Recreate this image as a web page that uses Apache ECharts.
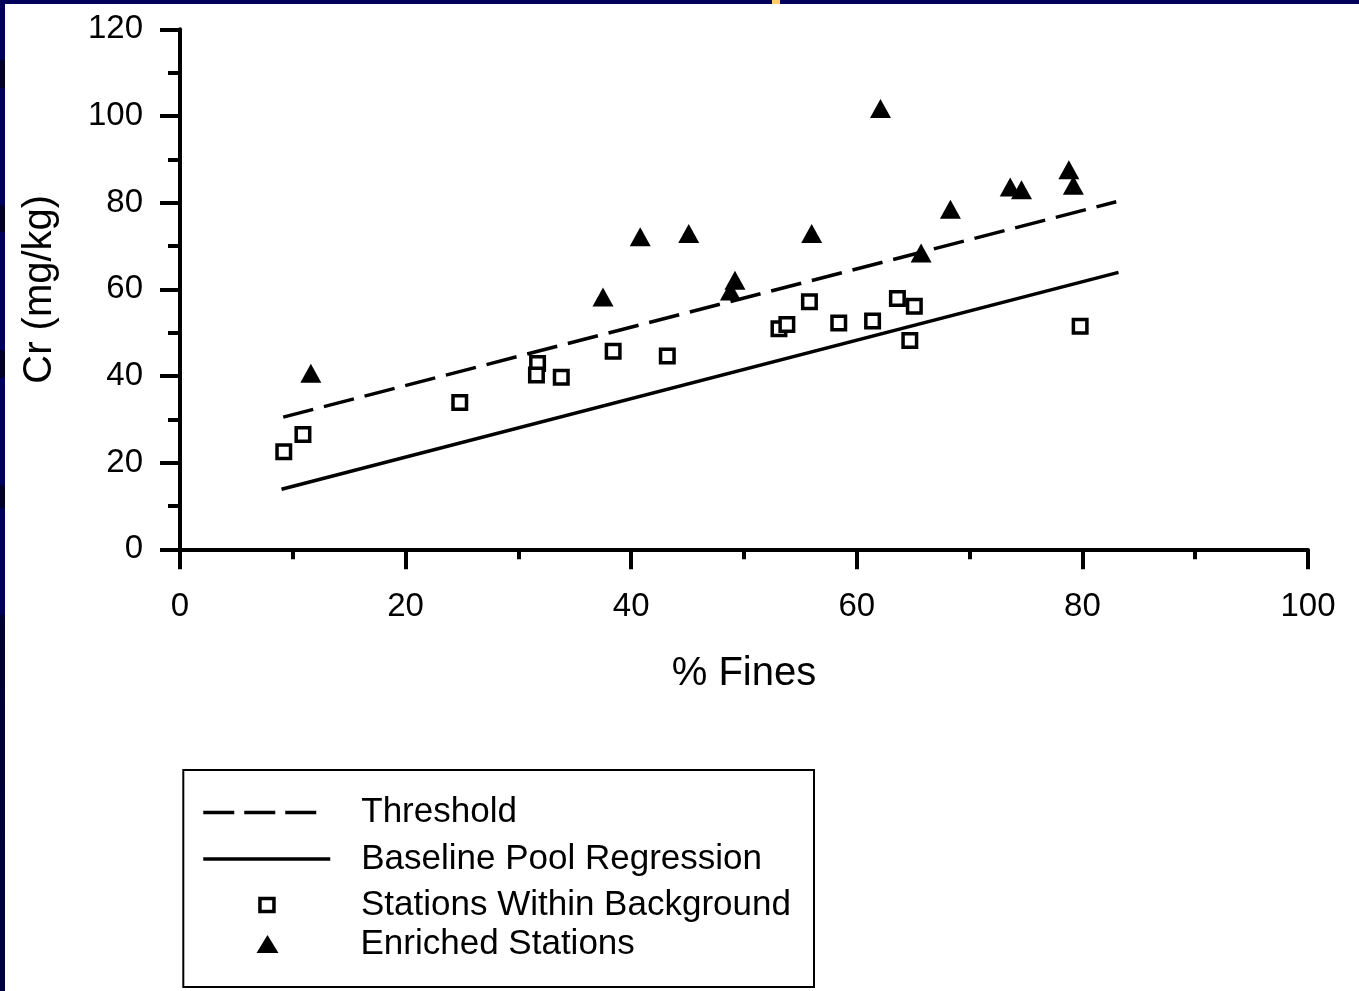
<!DOCTYPE html>
<html>
<head>
<meta charset="utf-8">
<script src="https://cdn.jsdelivr.net/npm/echarts@6/dist/echarts.min.js"></script>
<style>
html,body{margin:0;padding:0;width:1359px;height:991px;overflow:hidden;background:#00005a;}
#leftband{position:absolute;left:0;top:0;width:5px;height:991px;
 background:linear-gradient(to bottom,#00005a 0,#00005a 60px,#000028 60px,#000028 88px,#00005a 88px,#00005a 205px,#000028 205px,#000028 232px,#00005a 232px,#00005a 350px,#000028 350px,#000028 378px,#00005a 378px,#00005a 485px,#000028 485px,#000028 508px,#00005a 508px,#00005a 615px,#000030 615px,#000040 991px);}
#mark{position:absolute;left:772px;top:0;width:8px;height:4px;background:#ffcc66;}
#chart{position:absolute;left:5px;top:4px;width:1354px;height:987px;background:#fff;}
</style>
</head>
<body>
<div id="leftband"></div>
<div id="mark"></div>
<div id="chart"></div>
<script>
// ---- data ----
const backgroundX = [9.2, 10.9, 24.8, 31.7, 31.6, 33.8, 38.4, 43.2, 53.1, 53.8, 55.8, 58.4, 61.4, 63.6, 65.1, 64.7, 79.8];
const backgroundY = [22.5, 26.5, 33.9, 42.9, 40.2, 39.7, 45.7, 44.6, 50.9, 51.9, 57.1, 52.2, 52.7, 57.9, 56.1, 48.2, 51.5];
const enrichedX = [11.6, 37.5, 40.8, 45.1, 48.8, 49.2, 56.0, 62.1, 65.7, 68.3, 73.6, 74.6, 78.8, 79.2];
const enrichedY = [40.6, 58.2, 72.1, 72.9, 59.6, 62.1, 72.9, 101.7, 68.4, 78.5, 83.6, 83.0, 87.6, 84.0];
const thresholdX = [9.15, 83.0];
const thresholdY = [30.5, 80.2];
const baselineX = [9.0, 83.2];
const baselineY = [13.85, 63.9];
const xTicks = [0, 20, 40, 60, 80, 100];
const yTicks = [0, 20, 40, 60, 80, 100, 120];
const seriesNames = ['Threshold', 'Baseline Pool Regression', 'Stations Within Background', 'Enriched Stations'];

const pair = (xs, ys) => xs.map((x, i) => [x, ys[i]]);
const FONT = '"Liberation Sans", Arial, Helvetica, sans-serif';
const BLACK = '#000';

const chart = echarts.init(document.getElementById('chart'), null, {renderer: 'canvas'});

function legendText(pad) {
  return {fontSize: 35, lineHeight: 35, color: BLACK, fontFamily: FONT, padding: [0, 0, 0, pad]};
}

const option = {
  animation: false,
  backgroundColor: '#fff',
  color: [BLACK, BLACK, BLACK, BLACK],
  textStyle: {fontFamily: FONT},
  grid: {left: 175, right: 51, top: 25.3, bottom: 441.7, containLabel: false, outerBoundsMode: 'none'},
  xAxis: {
    type: 'value', min: xTicks[0], max: xTicks[xTicks.length - 1], interval: xTicks[1] - xTicks[0],
    axisLine: {show: true, onZero: false, lineStyle: {color: BLACK, width: 4}},
    axisTick: {show: true, length: 20, lineStyle: {color: BLACK, width: 4}},
    minorTick: {show: true, splitNumber: 2, length: 10, lineStyle: {color: BLACK, width: 4}},
    axisLabel: {fontSize: 33, color: BLACK, margin: 41, fontFamily: FONT},
    splitLine: {show: false},
    name: '% Fines', nameLocation: 'middle', nameGap: 105,
    nameTextStyle: {fontSize: 40, color: BLACK, fontFamily: FONT, lineHeight: 40}
  },
  yAxis: {
    type: 'value', min: yTicks[0], max: yTicks[yTicks.length - 1], interval: yTicks[1] - yTicks[0],
    axisLine: {show: true, onZero: false, lineStyle: {color: BLACK, width: 4}},
    axisTick: {show: true, length: 20, lineStyle: {color: BLACK, width: 4}},
    minorTick: {show: true, splitNumber: 2, length: 12, lineStyle: {color: BLACK, width: 4}},
    axisLabel: {fontSize: 33, color: BLACK, margin: 37, fontFamily: FONT},
    splitLine: {show: false},
    name: 'Cr (mg/kg)', nameLocation: 'middle', nameGap: 120, nameRotate: 90,
    nameTextStyle: {fontSize: 40, color: BLACK, fontFamily: FONT, lineHeight: 40}
  },
  legend: [
    {data: [seriesNames[0]], left: 196.5, top: 791, padding: 0, selectedMode: false,
     itemWidth: 114, itemHeight: 14, textStyle: legendText(39),
     itemStyle: {opacity: 0},
     lineStyle: {width: 3.5, color: BLACK, type: [31, 10]}},
    {data: [seriesNames[1]], left: 196.5, top: 837.5, padding: 0, selectedMode: false,
     itemWidth: 127, itemHeight: 14, textStyle: legendText(26),
     itemStyle: {opacity: 0},
     lineStyle: {width: 3.5, color: BLACK, type: 'solid'}},
    {data: [seriesNames[2]], left: 253.2, top: 883.5, padding: 0, selectedMode: false,
     itemWidth: 14, itemHeight: 13, symbolKeepAspect: false, textStyle: legendText(82),
     itemStyle: {color: '#fff', borderColor: BLACK, borderWidth: 3.5}},
    {data: [seriesNames[3]], left: 251.5, top: 922.5, padding: 0, selectedMode: false,
     itemWidth: 22, itemHeight: 18, symbolKeepAspect: false, textStyle: legendText(77),
     itemStyle: {color: BLACK, borderWidth: 0}}
  ],
  graphic: [{
    type: 'rect', silent: true, z: 100,
    shape: {x: 178.3, y: 766, width: 630.7, height: 217},
    style: {fill: 'none', stroke: BLACK, lineWidth: 2}
  }],
  series: [
    {name: seriesNames[0], type: 'line', data: pair(thresholdX, thresholdY), symbol: 'none', silent: true,
     itemStyle: {color: BLACK},
     lineStyle: {color: BLACK, width: 3.5, type: [31, 11]}, z: 2},
    {name: seriesNames[1], type: 'line', data: pair(baselineX, baselineY), symbol: 'none', silent: true,
     itemStyle: {color: BLACK},
     lineStyle: {color: BLACK, width: 3.5, type: 'solid'}, z: 2},
    {name: seriesNames[2], type: 'scatter', data: pair(backgroundX, backgroundY), symbol: 'rect', symbolSize: 13.5,
     itemStyle: {color: '#fff', borderColor: BLACK, borderWidth: 3.5, opacity: 1}, z: 3},
    {name: seriesNames[3], type: 'scatter', data: pair(enrichedX, enrichedY), symbol: 'triangle', symbolSize: [21, 19],
     itemStyle: {color: BLACK, opacity: 1}, z: 4}
  ]
};
chart.setOption(option);
</script>
</body>
</html>
